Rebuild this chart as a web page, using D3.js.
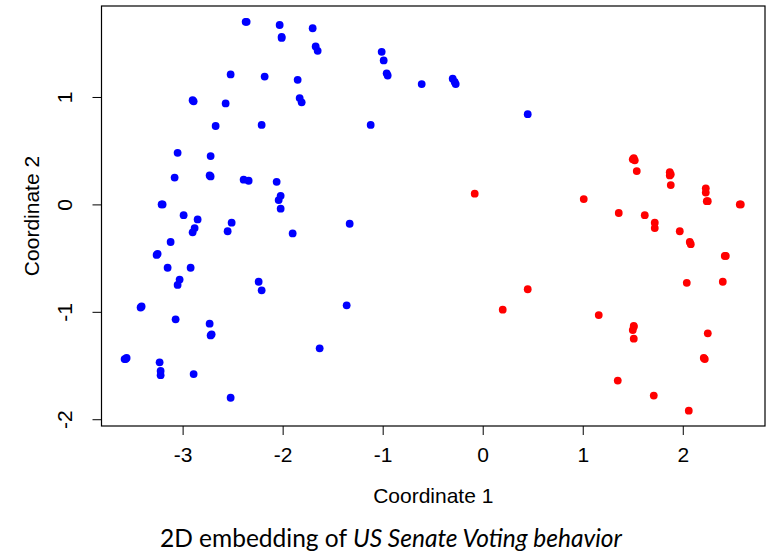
<!DOCTYPE html>
<html>
<head>
<meta charset="utf-8">
<script src="https://cdn.jsdelivr.net/npm/d3@7"></script>
<style>
  body { margin: 0; background: #fff; }
  svg { display: block; }
</style>
</head>
<body>
<div id="chart"></div>
<script>
// blue group (coordinate 1, coordinate 2)
const blueX = [-2.37, -2.36, -2.03, -2.01, -2.01, -1.70, -1.67, -1.65, -2.52, -2.18, -1.85,
  -2.90, -2.89, -2.57, -1.83, -1.81, -2.67, -2.21, -3.05, -2.72, -3.08, -2.73, -2.72,
  -2.39, -2.34, -2.06, -2.02, -2.04, -2.02, -3.21, -3.20, -2.99, -2.85, -2.88, -2.90,
  -2.51, -2.55, -1.90, -3.12, -3.26, -3.25, -3.15, -2.92, -3.03, -3.05, -2.24, -2.21,
  -3.41, -3.42, -3.07, -2.73, -2.71, -2.72, -1.63, -3.58, -3.57, -3.56, -3.23, -3.22,
  -3.22, -2.89, -2.52, -1.01, -0.99, -0.96, -0.95, -0.61, -0.30, -0.28, -0.27, -1.12,
  0.45, -1.33, -1.36];
const blueY = [1.70, 1.70, 1.67, 1.56, 1.55, 1.64, 1.47, 1.43, 1.21, 1.19, 1.16,
  0.97, 0.96, 0.94, 0.99, 0.95, 0.73, 0.74, 0.48, 0.45, 0.25, 0.27, 0.26,
  0.23, 0.22, 0.21, 0.08, 0.04, -0.04, 0.00, 0.00, -0.10, -0.14, -0.22, -0.26,
  -0.17, -0.25, -0.27, -0.35, -0.47, -0.46, -0.59, -0.59, -0.70, -0.75, -0.72, -0.80,
  -0.95, -0.96, -1.07, -1.11, -1.21, -1.22, -1.34, -1.44, -1.44, -1.43, -1.47, -1.55,
  -1.59, -1.58, -1.80, 1.42, 1.34, 1.22, 1.20, 1.12, 1.17, 1.14, 1.12, 0.74,
  0.84, -0.18, -0.94];

// red group
const redX = [-0.08, 1.01, 1.51, 1.52, 1.50, 1.54, 1.87, 1.88, 1.87, 1.88, 2.23, 2.23,
  2.25, 2.24, 2.58, 2.57, 1.36, 1.62, 1.72, 1.72, 1.97, 2.07, 2.08, 2.43, 2.42,
  0.45, 2.04, 2.40, 0.20, 1.16, 1.51, 1.50, 1.51, 1.51, 2.25, 2.22, 2.21, 1.35,
  1.71, 2.06];
const redY = [0.10, 0.05, 0.43, 0.41, 0.42, 0.31, 0.30, 0.28, 0.27, 0.18, 0.15, 0.11,
  0.03, 0.03, 0.00, 0.00, -0.08, -0.10, -0.17, -0.22, -0.25, -0.35, -0.37, -0.48, -0.48,
  -0.79, -0.73, -0.72, -0.98, -1.03, -1.13, -1.17, -1.14, -1.25, -1.20, -1.44, -1.43, -1.64,
  -1.78, -1.92];

const xTicks = [-3, -2, -1, 0, 1, 2];
const yTicks = [-2, -1, 0, 1];

const width = 766, height = 556;
const plot = {left: 101.5, right: 765, top: 6, bottom: 426};

const svg = d3.select('#chart').append('svg')
    .attr('width', width)
    .attr('height', height);

let x = d3.scaleLinear().domain([-3.811, 2.822]).range([plot.left, plot.right]);
let y = d3.scaleLinear().domain([-2.063, 1.847]).range([plot.bottom, plot.top]);

const font = 'Liberation Sans, Arial, Helvetica, sans-serif';
// plain hyphen for negatives, as R prints them
const fmt = d => String(d);

// x axis
let xAxis = svg.append('g')
    .attr('transform', 'translate(0,' + plot.bottom + ')')
    .call(d3.axisBottom(x).tickValues(xTicks).tickSize(9).tickPadding(12).tickFormat(fmt));
xAxis.select('.domain').remove();
xAxis.selectAll('text')
    .style('font-family', font)
    .style('font-size', '21px')
    .attr('fill', '#000');

// y axis, labels turned like R does
let yAxis = svg.append('g')
    .attr('transform', 'translate(' + plot.left + ',0)')
    .call(d3.axisLeft(y).tickValues(yTicks).tickSize(9).tickFormat(fmt));
yAxis.select('.domain').remove();
yAxis.selectAll('text')
    .attr('x', null).attr('dy', null)
    .attr('text-anchor', 'middle')
    .attr('transform', 'translate(-29.5,0)rotate(-90)')
    .style('font-family', font)
    .style('font-size', '21px')
    .attr('fill', '#000');

// box
svg.append('rect')
    .attr('x', plot.left)
    .attr('y', plot.top)
    .attr('width', plot.right - plot.left)
    .attr('height', plot.bottom - plot.top)
    .attr('fill', 'none')
    .attr('stroke', '#000')
    .attr('stroke-width', 1.2);

// points
const drawPoints = (xs, ys, color) => {
    svg.append('g')
        .selectAll('circle')
        .data(xs.map((d, i) => [d, ys[i]]))
        .enter()
        .append('circle')
            .attr('cx', d => x(d[0]))
            .attr('cy', d => y(d[1]))
            .attr('r', 3.9)
            .style('fill', color);
};
drawPoints(blueX, blueY, '#0000ff');
drawPoints(redX, redY, '#ff0000');

// axis labels
svg.append('text')
    .attr('text-anchor', 'middle')
    .attr('x', (plot.left + plot.right) / 2)
    .attr('y', 502.5)
    .style('font-family', font)
    .style('font-size', '21px')
    .text('Coordinate 1');

svg.append('text')
    .attr('text-anchor', 'middle')
    .attr('transform', 'translate(38.5,' + (plot.top + plot.bottom) / 2 + ')rotate(-90)')
    .style('font-family', font)
    .style('font-size', '21px')
    .text('Coordinate 2');

// caption below the figure
let caption = svg.append('text')
    .attr('x', 160)
    .attr('y', 547)
    .style('font-family', 'Lato, Open Sans, sans-serif')
    .style('font-size', '26px')
    .attr('fill', '#000');
caption.append('tspan').text('2D embedding of ');
caption.append('tspan').style('font-style', 'italic').text('US Senate Voting behavior');

// fit caption to the width seen in the figure
let w = caption.node().getComputedTextLength();
caption.style('font-size', (26 * 462 / w) + 'px');
</script>
</body>
</html>
